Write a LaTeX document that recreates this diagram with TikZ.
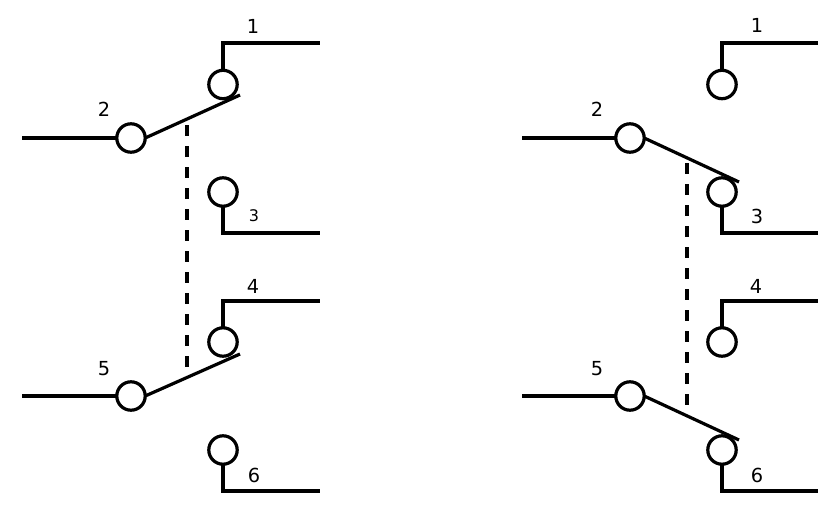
\documentclass[tikz,border=0pt]{standalone}
\usepackage{fontspec}
\setmainfont{DejaVu Sans}
\tikzset{
  term/.style={circle,draw=black,fill=white,line width=2.4pt,minimum size=21.3pt,inner sep=0pt,outer sep=0pt},
  wire/.style={line width=2.4pt,draw=black,line join=miter},
  tie/.style={line width=2.4pt,draw=black,dash pattern=on 8pt off 7.75pt},
  lab/.style={font=\fontsize{14.5pt}{16pt}\selectfont,inner sep=0pt,text=black},
  labsmall/.style={font=\fontsize{12pt}{14pt}\selectfont,inner sep=0pt,text=black}
}
\begin{document}
\begin{tikzpicture}[x=0.75pt,y=-0.75pt]
\useasboundingbox (0,0) rectangle (840,518);
% left panel
\node[term] (L2) at (131,138) {};
\node[term] (L1) at (223,84.5) {};
\node[term] (L3) at (223,192) {};
\node[term] (L5) at (131,396) {};
\node[term] (L4) at (223,342) {};
\node[term] (L6) at (223,450) {};
\coordinate (La) at (22,138);
\coordinate (Lb) at (22,396);
\coordinate (Lc1) at (223,43);
\coordinate (Le1) at (320,43);
\coordinate (Lc3) at (223,233);
\coordinate (Le3) at (320,233);
\coordinate (Lc4) at (223,301);
\coordinate (Le4) at (320,301);
\coordinate (Lc6) at (223,491);
\coordinate (Le6) at (320,491);
\coordinate (Lt) at (240,95);
\coordinate (Lu) at (240,354);
\coordinate (Ld1) at (187,125);
\coordinate (Ld2) at (187,372);
\draw[wire] (La) -- (L2);
\draw[wire] (Lb) -- (L5);
\draw[wire] (L1) -- (Lc1) -- (Le1);
\draw[wire] (L3) -- (Lc3) -- (Le3);
\draw[wire] (L4) -- (Lc4) -- (Le4);
\draw[wire] (L6) -- (Lc6) -- (Le6);
\draw[wire] (L2.east) -- (Lt);
\draw[wire] (L5.east) -- (Lu);
\draw[tie] (Ld1) -- (Ld2);
\node[lab] (l1) at (253,26) {1};
\node[lab] (l2) at (104,109) {2};
\node[labsmall] (l3) at (254,216) {3};
\node[lab] (l4) at (253,286) {4};
\node[lab] (l5) at (104,369) {5};
\node[lab] (l6) at (254,475) {6};
% right panel
\node[term] (R2) at (630,138) {};
\node[term] (R1) at (722,84.5) {};
\node[term] (R3) at (722,192) {};
\node[term] (R5) at (630,396) {};
\node[term] (R4) at (722,342) {};
\node[term] (R6) at (722,450) {};
\coordinate (Ra) at (522,138);
\coordinate (Rb) at (522,396);
\coordinate (Rc1) at (722,43);
\coordinate (Re1) at (818,43);
\coordinate (Rc3) at (722,233);
\coordinate (Re3) at (818,233);
\coordinate (Rc4) at (722,301);
\coordinate (Re4) at (818,301);
\coordinate (Rc6) at (722,491);
\coordinate (Re6) at (818,491);
\coordinate (Rt) at (739,182);
\coordinate (Ru) at (739,440);
\coordinate (Rd1) at (687,163);
\coordinate (Rd2) at (687,409);
\draw[wire] (Ra) -- (R2);
\draw[wire] (Rb) -- (R5);
\draw[wire] (R1) -- (Rc1) -- (Re1);
\draw[wire] (R3) -- (Rc3) -- (Re3);
\draw[wire] (R4) -- (Rc4) -- (Re4);
\draw[wire] (R6) -- (Rc6) -- (Re6);
\draw[wire] (R2.east) -- (Rt);
\draw[wire] (R5.east) -- (Ru);
\draw[tie] (Rd1) -- (Rd2);
\node[lab] (r1) at (757,25) {1};
\node[lab] (r2) at (597,109) {2};
\node[lab] (r3) at (757,216) {3};
\node[lab] (r4) at (756,286) {4};
\node[lab] (r5) at (597,369) {5};
\node[lab] (r6) at (757,475) {6};
\end{tikzpicture}
\end{document}
